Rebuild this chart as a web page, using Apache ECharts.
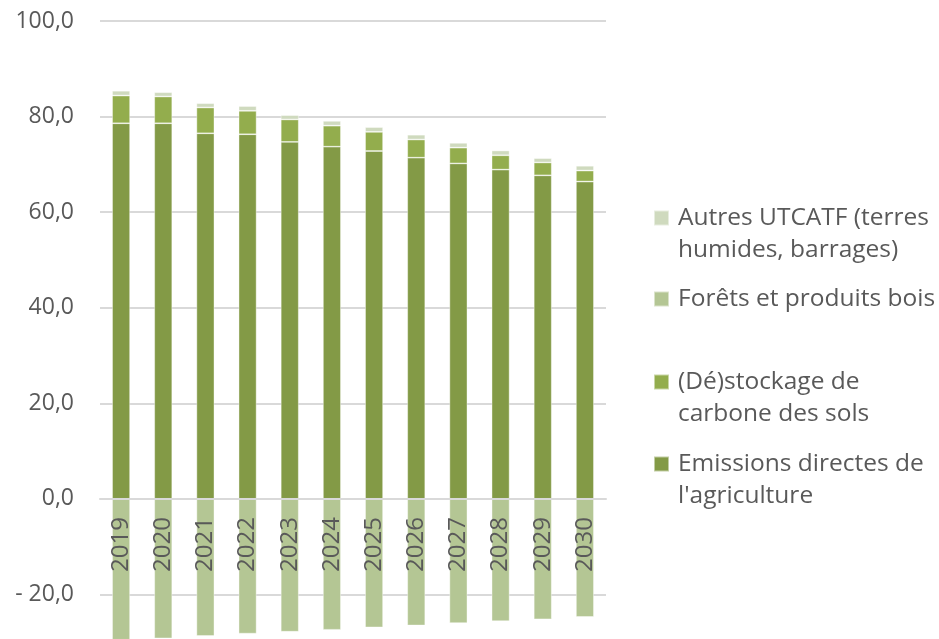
<!DOCTYPE html>
<html>
<head>
<meta charset="utf-8">
<script src="https://cdn.jsdelivr.net/npm/echarts@6/dist/echarts.min.js"></script>
<style>
html,body{margin:0;padding:0;background:#fff;}
#chart{width:939px;height:639px;}
</style>
</head>
<body>
<div id="chart"></div>
<script>
// données
var annees = ['2019','2020','2021','2022','2023','2024','2025','2026','2027','2028','2029','2030'];
var emissions = [78.6, 78.6, 76.5, 76.3, 74.7, 73.7, 72.8, 71.4, 70.2, 68.9, 67.7, 66.4];
var stockage = [5.8, 5.6, 5.4, 4.9, 4.7, 4.4, 4.0, 3.8, 3.3, 3.0, 2.7, 2.3];
var forets = [-29.5, -29.2, -28.7, -28.2, -27.8, -27.4, -26.9, -26.5, -26.0, -25.6, -25.2, -24.7];
var autres = [1.0, 0.9, 0.9, 1.0, 0.9, 1.0, 1.0, 1.0, 1.0, 1.0, 0.9, 1.0];

var nomEmissions = "Emissions directes de l'agriculture";
var nomStockage = "(Dé)stockage de carbone des sols";
var nomForets = "Forêts et produits bois";
var nomAutres = "Autres UTCATF (terres humides, barrages)";
// le \n en tête sert à aligner le carré sur la première ligne
var libelles = {};
libelles[nomEmissions] = "\nEmissions directes de\nl'agriculture";
libelles[nomStockage] = "\n(Dé)stockage de\ncarbone des sols";
libelles[nomForets] = "Forêts et produits bois";
libelles[nomAutres] = "\nAutres UTCATF (terres\nhumides, barrages)";

var gris = '#595959';
var police = 'Open Sans';

function legende(nom, top) {
	return {
		data: [nom],
		left: 653,
		top: top,
		padding: 0,
		itemWidth: 15,
		itemHeight: 15,
		icon: 'rect',
		selectedMode: false,
		formatter: function(n) { return libelles[n]; },
		textStyle: {
			color: gris,
			fontFamily: police,
			fontSize: 24.5,
			lineHeight: 32,
			padding: [0, 0, 0, 4]
		}
	};
}

function serie(nom, data, couleur) {
	return {
		name: nom,
		type: 'bar',
		stack: 'total',
		barWidth: 18,
		data: data,
		itemStyle: {
			color: couleur,
			borderColor: 'rgba(255,255,255,0.5)',
			borderWidth: 0.8
		}
	};
}

var myChart = echarts.init(document.getElementById('chart'));
var option = {
	animation: false,
	backgroundColor: '#fff',
	grid: {
		left: 100,
		top: 21,
		width: 506,
		height: 669,
		outerBoundsMode: 'none'
	},
	legend: [
		legende(nomAutres, 170),
		legende(nomForets, 283),
		legende(nomStockage, 334),
		legende(nomEmissions, 416)
	],
	xAxis: {
		type: 'category',
		data: annees,
		position: 'bottom',
		// remonte l'axe au niveau du 0 (bas de grille à -40)
		offset: -191,
		z: 10,
		axisLine: { show: true, onZero: false, lineStyle: { color: '#d9d9d9', width: 2 } },
		axisTick: { show: false },
		axisLabel: {
			rotate: 90,
			margin: 18,
			color: gris,
			fontFamily: police,
			fontSize: 24
		}
	},
	yAxis: {
		type: 'value',
		min: -40,
		max: 100,
		interval: 20,
		axisLine: { show: false },
		axisTick: { show: false },
		splitLine: { lineStyle: { color: '#d9d9d9', width: 2 } },
		axisLabel: {
			margin: 26,
			color: gris,
			fontFamily: police,
			fontSize: 23,
			formatter: function(v) {
				var s = Math.abs(v).toFixed(1).replace('.', ',');
				return v < 0 ? '- ' + s : s;
			}
		}
	},
	series: [
		serie(nomEmissions, emissions, '#839a46'),
		serie(nomStockage, stockage, '#93ad4d'),
		serie(nomForets, forets, '#b4c694'),
		serie(nomAutres, autres, '#cfdabe')
	]
};
myChart.setOption(option);
</script>
</body>
</html>
